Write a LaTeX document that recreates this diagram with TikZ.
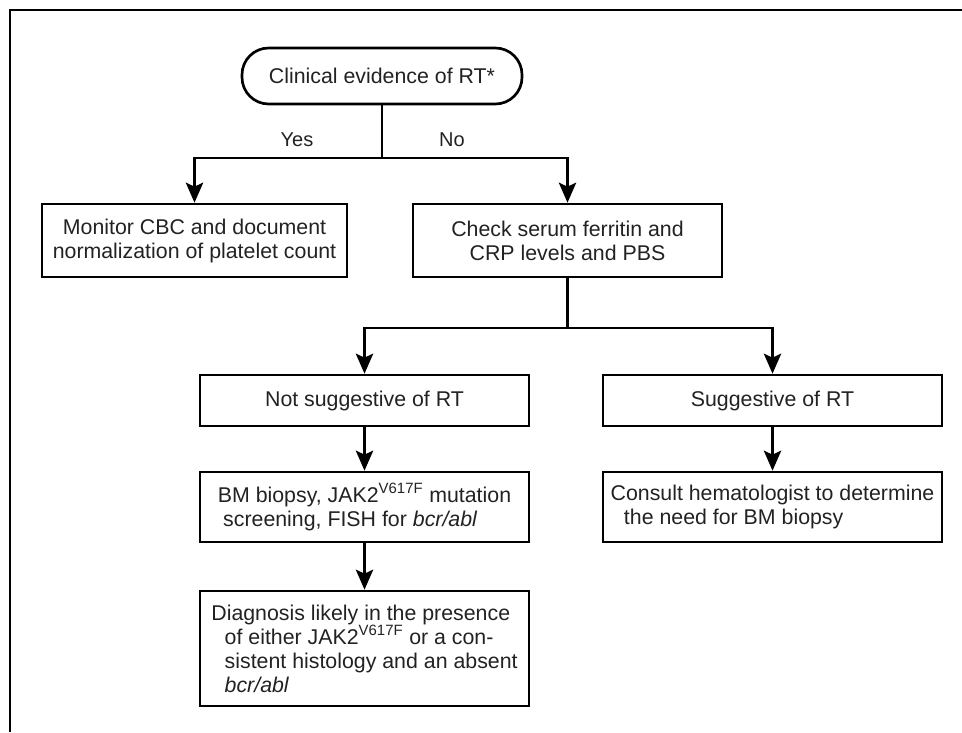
\documentclass[tikz,border=0pt]{standalone}
\usepackage{fontspec}
\setmainfont{Liberation Sans}
\usetikzlibrary{arrows.meta}
\definecolor{txt}{HTML}{222222}
\begin{document}
\begin{tikzpicture}[x=0.75pt,y=-0.75pt,
  box/.style={draw,line width=2pt,inner sep=0pt,align=center,text=txt,font=\fontsize{16pt}{18pt}\selectfont},
  conn/.style={line width=1.8pt},
  arr/.style={conn,-{Stealth[length=15pt,width=13pt,inset=3pt]}},
  lbl/.style={inner sep=0pt,text=txt,font=\fontsize{15pt}{18pt}\selectfont}]
\useasboundingbox (0,0) rectangle (962,732);
\draw[line width=2pt] (10,732) -- (10,10) -- (962,10);

\node[box,rounded corners=20pt,minimum width=210pt,minimum height=42pt] (start) at (382,76) {Clinical evidence of RT*};
\node[box,minimum width=228.75pt,minimum height=54.75pt] (mon) at (194.5,240.5) {Monitor CBC and document\\normalization of platelet count};
\node[box,minimum width=231.75pt,minimum height=54.75pt] (chk) at (567.5,240.5) {Check serum ferritin and\\CRP levels and PBS};
\node[box,minimum width=246.75pt,minimum height=38.25pt] (notsug) at (364.5,400.5) {Not suggestive of RT};
\node[box,minimum width=254.25pt,minimum height=38.25pt] (sug) at (772.5,400.5) {Suggestive of RT};
\node[box,align=left,minimum width=246.75pt,minimum height=52.5pt] (bm) at (364.5,507) {BM biopsy, JAK2\textsuperscript{V617F} mutation\\\hspace*{4pt}screening, FISH for \textit{bcr/abl}};
\node[box,align=left,minimum width=254.25pt,minimum height=52.5pt] (cons) at (772.5,507) {Consult hematologist to determine\\\hspace*{10pt}the need for BM biopsy};
\node[box,align=left,minimum width=246.75pt,minimum height=86.25pt] (diag) at (364.5,648.5) {Diagnosis likely in the presence\\\hspace*{10pt}of either JAK2\textsuperscript{V617F} or a con-\\\hspace*{10pt}sistent histology and an absent\\\hspace*{10pt}\textit{bcr/abl}};

\node[lbl] (yes) at (297,140) {Yes};
\node[lbl] (no) at (452,140) {No};

\coordinate (j1) at (382,158);
\draw[conn] (start.south) -- (j1);
\draw[arr] (j1) -| (mon.north);
\draw[arr] (j1) -| (chk.north);
\coordinate (j2) at (567.5,328);
\draw[conn] (chk.south) -- (j2);
\draw[arr] (j2) -| (notsug.north);
\draw[arr] (j2) -| (sug.north);
\draw[arr] (notsug) -- (bm);
\draw[arr] (sug) -- (cons);
\draw[arr] (bm) -- (diag);
\end{tikzpicture}
\end{document}
